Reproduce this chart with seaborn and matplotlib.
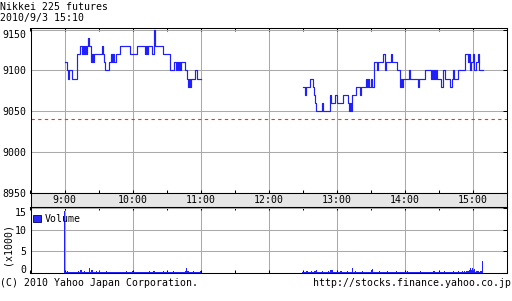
import matplotlib
matplotlib.use("Agg")
import matplotlib.pyplot as plt
import seaborn as sns
import pandas as pd
from matplotlib.patches import Patch

# ---------------- data (minutes since 9:00) ----------------
am_time = [0, 2, 3, 4, 7, 11, 14, 15, 16, 17, 18, 19, 20, 21, 22, 23, 24, 25, 26,
           33, 34, 35, 36, 39, 41, 42, 43, 44, 45, 49, 58, 64, 71, 72, 73, 74, 77,
           79, 80, 87, 93, 97, 98, 99, 100, 101, 102, 103, 106, 108, 109, 110, 111,
           112, 115, 117, 120]
am_price = [9110, 9100, 9090, 9100, 9090, 9120, 9130, 9120, 9130, 9120, 9130, 9120, 9130, 9140, 9130, 9110, 9120, 9110, 9120,
            9130, 9120, 9110, 9100, 9110, 9120, 9110, 9120, 9110, 9120, 9130, 9120, 9130, 9120, 9130, 9120, 9130, 9120,
            9150, 9130, 9120, 9100, 9110, 9100, 9110, 9100, 9110, 9100, 9110, 9100, 9090, 9080, 9090, 9080,
            9090, 9100, 9090, 9090]

pm_time = [210, 212, 213, 217, 219, 220, 221, 222, 227, 228, 234, 235, 239, 240, 246, 250, 251, 252, 253, 254,
           257, 261, 262, 266, 267, 268, 269, 270, 271, 273, 276, 277, 281, 283, 284, 288, 289, 293, 296, 297,
           298, 299, 304, 305, 312, 313, 318, 323, 324, 325, 326, 327, 328, 329, 332, 334, 336, 340, 342, 343,
           344, 347, 353, 356, 357, 358, 359, 360, 361, 363, 365, 366, 369]
pm_price = [9080, 9070, 9080, 9090, 9080, 9070, 9060, 9050, 9060, 9050, 9070, 9060, 9070, 9060, 9070, 9060, 9050, 9060, 9050, 9070,
            9080, 9070, 9080, 9090, 9080, 9090, 9080, 9090, 9080, 9110, 9100, 9110, 9120, 9100, 9110, 9120, 9110, 9100, 9080, 9090,
            9080, 9090, 9100, 9090, 9080, 9090, 9100, 9090, 9100, 9090, 9100, 9090, 9100, 9090, 9080, 9100, 9090, 9080, 9090, 9100,
            9090, 9100, 9120, 9110, 9120, 9100, 9110, 9120, 9100, 9110, 9120, 9100, 9100]

prev_close = 9040

# volume (x1000) per minute, morning 9:00-11:00 and afternoon 12:30-15:09
am_volume = [14.2,
             0.4, 0.3, 0.5, 0.3, 0.4, 0.3, 0.2, 0.4, 0.3,
             0.3, 0.4, 0.5, 0.3, 0.8, 0.7, 0.3, 0.4, 0.6, 0.3,
             0.4, 0.3, 1.3, 0.4, 0.7, 0.8, 0.3, 0.4, 0.5, 0.3,
             0.3, 0.6, 0.4, 0.3, 0.2, 0.4, 0.3, 0.5, 0.3, 0.4,
             0.3, 0.2, 0.4, 0.3, 0.3, 0.4, 0.2, 0.3, 0.4, 0.3,
             0.2, 0.3, 0.4, 0.3, 0.2, 0.5, 0.3, 0.3, 0.4, 0.2,
             0.5, 0.4, 0.3, 0.3, 0.4, 0.3, 0.2, 0.3, 0.4, 0.3,
             0.3, 0.4, 0.2, 0.3, 0.3, 0.5, 0.4, 0.3, 0.3, 0.6,
             0.4, 0.3, 0.3, 0.2, 0.4, 0.3, 0.3, 0.5, 0.3, 0.4,
             0.3, 0.2, 0.4, 0.3, 0.3, 0.4, 0.5, 0.3, 0.3, 0.4,
             0.3, 0.4, 0.3, 0.3, 0.2, 0.4, 0.3, 0.5, 1.3, 0.6,
             0.4, 0.3, 0.4, 0.3, 0.5, 0.3, 0.4, 0.3, 0.4, 0.3,
             0.5]
pm_volume = [0.4, 0.3, 0.4, 0.3, 0.5, 0.4, 0.3, 0.4, 0.6, 0.3,
             0.4, 0.5, 0.8, 0.4, 0.3, 0.3, 0.4, 0.3, 0.5, 0.3,
             0.3, 0.4, 0.3, 0.5, 0.3, 0.7, 0.8, 0.4, 0.3, 0.4,
             0.3, 0.4, 0.3, 0.3, 0.5, 0.3, 0.4, 0.3, 0.4, 0.3,
             0.5, 0.4, 0.3, 0.4, 1.3, 0.4, 0.3, 0.5, 0.3, 0.4,
             0.3, 0.4, 0.3, 0.5, 0.3, 0.4, 0.3, 0.4, 0.3, 0.3,
             0.4, 0.8, 0.9, 0.4, 0.3, 0.4, 0.3, 0.3, 0.5, 0.3,
             0.4, 0.3, 0.3, 0.4, 0.3, 0.6, 0.3, 0.4, 0.3, 0.3,
             0.4, 0.3, 0.3, 0.5, 0.3, 0.4, 0.3, 0.3, 0.4, 0.3,
             0.3, 0.4, 0.3, 0.5, 0.4, 0.3, 0.3, 0.4, 0.3, 0.4,
             0.3, 0.3, 0.4, 0.3, 0.5, 0.3, 0.4, 0.3, 0.3, 0.4,
             0.3, 0.4, 0.3, 0.4, 0.3, 0.3, 0.5, 0.3, 0.4, 0.3,
             0.4, 0.3, 0.3, 0.4, 0.3, 0.5, 0.3, 0.4, 0.3, 0.4,
             0.3, 0.4, 0.3, 0.5, 0.3, 0.4, 0.4, 0.3, 0.5, 0.4,
             0.4, 0.5, 0.4, 0.5, 0.4, 0.6, 0.5, 0.8, 1.2, 0.7,
             1.2, 0.5, 0.9, 0.4, 0.5, 0.6, 0.4, 0.5, 0.6, 2.8]
am_start, pm_start = 0, 210

hour_ticks = [0, 60, 120, 180, 240, 300, 360]
hour_labels = ["9:00", "10:00", "11:00", "12:00", "13:00", "14:00", "15:00"]
half_ticks = [-30, 30, 90, 150, 210, 270, 330, 390]
price_ticks = [8950, 9000, 9050, 9100, 9150]
vol_ticks = [0, 5, 10, 15]

title1 = "Nikkei 225 futures"
title2 = "2010/9/3 15:10"
footer_left = "(C) 2010 Yahoo Japan Corporation."
footer_right = "http://stocks.finance.yahoo.co.jp"

# ---------------- style ----------------
MONO = "DejaVu Sans Mono"
FS = 7.1
BLUE = "#2020ff"
GRID = "#aaaaaa"
plt.rcParams["font.family"] = [MONO]
plt.rcParams["axes.linewidth"] = 0.75

W, H = 512, 301
fig = plt.figure(figsize=(W / 100, H / 100), dpi=100)
fig.patch.set_facecolor("white")


def frame(x0, y0, x1, y1):
    return [x0 / W, 1 - y1 / H, (x1 - x0) / W, (y1 - y0) / H]


ax = fig.add_axes(frame(30.5, 28.3, 506.5, 193))
band = fig.add_axes(frame(30.5, 193, 506.5, 207.3))
axv = fig.add_axes(frame(30.5, 207.3, 506.5, 273.3))

am_df = pd.DataFrame({"t": am_time, "p": am_price})
pm_df = pd.DataFrame({"t": pm_time, "p": pm_price})
for df in (am_df, pm_df):
    sns.lineplot(data=df, x="t", y="p", ax=ax, color=BLUE, lw=0.85,
                 drawstyle="steps-post", estimator=None, zorder=3)
ax.axhline(prev_close, color="#ff2a2a", lw=0.8, linestyle=(0, (3.0, 3.0)), zorder=2)

vol_df = pd.DataFrame({
    "t": list(range(am_start, am_start + len(am_volume))) + list(range(pm_start, pm_start + len(pm_volume))),
    "v": am_volume + pm_volume,
})
sns.histplot(data=vol_df, x="t", weights="v", discrete=True, ax=axv,
             color=BLUE, alpha=1, linewidth=0, zorder=3)

for a in (ax, band, axv):
    a.set_xlim(-30, 390)
    a.set_xlabel("")
    a.set_ylabel("")

ax.set_ylim(8950, 9151.6)
axv.set_ylim(0, 15.1)

for a, yt in ((ax, price_ticks), (axv, vol_ticks)):
    a.set_xticks(hour_ticks)
    a.set_xticks(half_ticks, minor=True)
    a.set_yticks(yt)
    a.set_yticklabels([str(v) for v in yt], fontsize=FS)
    a.grid(True, which="major", color=GRID, lw=0.75, zorder=1)
    a.set_axisbelow(True)
    a.tick_params(axis="x", which="both", direction="in", top=True, bottom=True,
                  length=2.3, width=0.75, labelbottom=False)
    a.tick_params(axis="y", which="major", direction="in", left=False, right=True,
                  length=3.0, width=0.75, pad=3.0, labelsize=FS)

# top label of each panel sits below its tick; the volume "0" sits on the axis bottom
ax.get_yticklabels()[-1].set_va("top")
axv.get_yticklabels()[-1].set_va("top")
axv.get_yticklabels()[0].set_va("baseline")

band.set_facecolor("#e6e6e6")
band.set_yticks([])
band.set_xticks([])
for h, lab in zip(hour_ticks, hour_labels):
    band.text(h, 0.5, lab, transform=band.get_xaxis_transform(),
              ha="center", va="center", fontsize=FS)

# legend
axv.legend(handles=[Patch(facecolor="#2a2aff", edgecolor="#000060", lw=0.6)],
           labels=["Volume"], loc="upper left", bbox_to_anchor=(0.0, 0.94),
           frameon=False, fontsize=FS, handlelength=0.75, handleheight=0.75,
           handletextpad=0.35, borderaxespad=0.1, borderpad=0.2)

fig.text(7.5 / W, 1 - 244 / H, "(x1000)", rotation=90, ha="center", va="center", fontsize=FS)
fig.text(0.5 / W, 1 - 6.5 / H, title1, ha="left", va="center", fontsize=FS)
fig.text(0.5 / W, 1 - 18.5 / H, title2, ha="left", va="center", fontsize=FS)
fig.text(0.5 / W, 1 - 282.5 / H, footer_left, ha="left", va="center", fontsize=FS)
fig.text(511.5 / W, 1 - 282.5 / H, footer_right, ha="right", va="center", fontsize=FS)

fig.savefig("out.png", dpi=100)
